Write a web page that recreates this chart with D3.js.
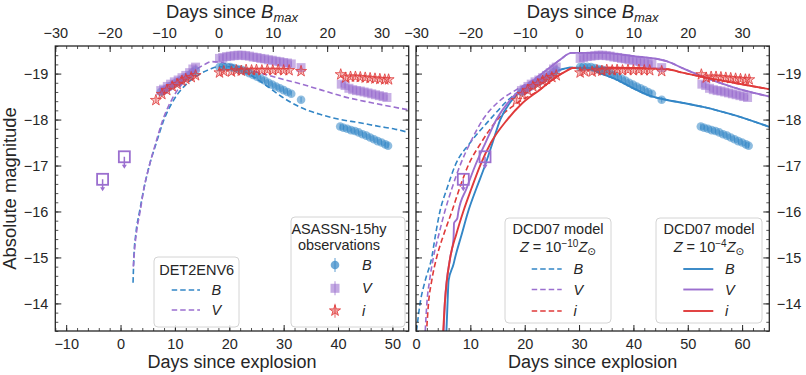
<!DOCTYPE html>
<html>
<head>
<meta charset="UTF-8">
<script src="https://cdnjs.cloudflare.com/ajax/libs/d3/7.8.5/d3.min.js"></script>
<style>
  body { margin: 0; background: #fff; }
  svg text { font-family: "Liberation Sans", Arial, Helvetica, sans-serif; fill: #262626; }
</style>
</head>
<body>
<svg id="chart" width="806" height="375"></svg>
<script>
// ASASSN-15hy photometry, [days since B max, absolute mag]
var obsB = [[-10.6,-18.6],[-10.1,-18.63],[-9.4,-18.68],[-8.8,-18.73],[-8.1,-18.78],[-7.4,-18.82],[-6.7,-18.87],[-6.0,-18.92],[-5.3,-18.97],[-4.7,-19.03],[-4.2,-19.07],
  [0.2,-19.14],[0.8,-19.15],[1.5,-19.15],[2.2,-19.14],[2.9,-19.12],[3.6,-19.1],[4.3,-19.08],[5.0,-19.05],[5.7,-19.01],[6.4,-18.97],[7.1,-18.93],[7.8,-18.89],[8.5,-18.85],[9.2,-18.8],[9.9,-18.76],[10.6,-18.72],[11.3,-18.68],[12.0,-18.64],[12.7,-18.6],[13.4,-18.56],
  [15.2,-18.43],
  [22.4,-17.85],[23.0,-17.82],[23.7,-17.8],[24.4,-17.77],[25.1,-17.75],[25.8,-17.72],[26.5,-17.68],[27.2,-17.65],[27.9,-17.61],[28.6,-17.57],[29.3,-17.53],[30.0,-17.5],[30.7,-17.46],[31.2,-17.43]];
var obsV = [[-10.6,-18.63],[-10.1,-18.66],[-9.4,-18.72],[-8.8,-18.77],[-8.1,-18.82],[-7.4,-18.86],[-6.7,-18.91],[-6.0,-18.96],[-5.3,-19.02],[-4.7,-19.1],[-4.2,-19.14],
  [0.2,-19.33],[0.8,-19.35],[1.5,-19.37],[2.2,-19.38],[2.9,-19.39],[3.6,-19.4],[4.3,-19.4],[5.0,-19.39],[5.7,-19.38],[6.4,-19.36],[7.1,-19.35],[7.8,-19.33],[8.5,-19.32],[9.2,-19.3],[9.9,-19.29],[10.6,-19.27],[11.3,-19.26],[12.0,-19.24],[12.7,-19.23],[13.4,-19.21],
  [15.2,-19.13],
  [22.6,-18.77],[23.3,-18.74],[24.0,-18.68],[24.7,-18.65],[25.4,-18.63],[26.1,-18.62],[26.8,-18.6],[27.5,-18.58],[28.2,-18.56],[28.9,-18.54],[29.6,-18.52],[30.3,-18.5],[31.0,-18.48]];
var obsI = [[-11.5,-18.42],[-10.4,-18.55],[-9.5,-18.64],[-8.5,-18.72],[-7.6,-18.77],[-6.7,-18.84],[-6.0,-18.88],[-5.0,-18.92],[-4.2,-18.96],
  [0.2,-19.02],[1.0,-19.05],[2.4,-19.04],[3.3,-19.07],[4.2,-19.06],[5.1,-19.08],[6.1,-19.07],[7.0,-19.08],[8.0,-19.07],[9.0,-19.08],[10.0,-19.07],[11.0,-19.08],[12.0,-19.07],[13.0,-19.07],
  [15.2,-19.05],
  [22.5,-18.98],[23.4,-18.91],[24.3,-18.93],[25.2,-18.93],[26.1,-18.92],[27.0,-18.91],[27.9,-18.9],[28.8,-18.89],[29.7,-18.88],[30.6,-18.87],[31.3,-18.87]];
var limV = [[-21.3,-16.70],[-17.3,-17.19]];

// models, [days since explosion, absolute mag]
var det2B = [[2.3,-14.45],[2.45,-15.0],[2.8,-15.5],[3.5,-16.0],[4.3,-16.5],[5.3,-17.0],[6.6,-17.5],[8.0,-18.0],[9.8,-18.43],[12.2,-18.78],[14.6,-18.99],[16.5,-19.1],[18.0,-19.15],[20.0,-19.15],[22.0,-19.08],[24.0,-18.96],[26.8,-18.74],[30.0,-18.47],[33.0,-18.27],[36.5,-18.12],[40.0,-18.01],[44.0,-17.93],[47.6,-17.85],[50.5,-17.79],[53.0,-17.72]];
var det2V = [[2.35,-14.8],[2.6,-15.2],[3.0,-15.6],[3.6,-16.0],[4.3,-16.5],[5.3,-17.0],[6.5,-17.5],[7.8,-18.0],[9.5,-18.45],[11.5,-18.8],[13.5,-19.05],[15.5,-19.2],[16.8,-19.26],[18.5,-19.24],[21.0,-19.17],[24.0,-19.07],[27.0,-18.97],[30.0,-18.87],[33.0,-18.78],[37.0,-18.64],[41.0,-18.5],[46.0,-18.37],[53.0,-18.21]];

var dcdLoB = [[0.1,-13.4],[0.75,-14.0],[1.7,-14.5],[2.9,-15.0],[3.6,-15.5],[4.4,-16.0],[5.7,-16.5],[7.2,-17.0],[10.0,-17.5],[13.6,-18.0],[17.0,-18.43],[20.0,-18.7],[22.8,-18.88],[26.5,-19.08],[28.3,-19.13],[31.3,-19.12],[34.0,-19.0],[36.9,-18.87],[40.0,-18.68],[43.0,-18.52],[46.0,-18.43],[49.2,-18.36],[53.0,-18.27],[58.4,-18.1],[65.0,-17.84]];
var dcdLoV = [[1.7,-13.4],[2.0,-14.0],[2.5,-14.5],[3.2,-15.0],[4.2,-15.5],[5.3,-16.0],[6.6,-16.5],[8.1,-17.0],[10.0,-17.5],[12.3,-18.0],[15.3,-18.4],[18.5,-18.65],[21.6,-18.87],[24.5,-19.12],[26.5,-19.3],[28.6,-19.45],[33.8,-19.45],[40.0,-19.38],[46.1,-19.27],[49.0,-19.12],[52.2,-18.96],[58.4,-18.7],[65.0,-18.5]];
var dcdLoI = [[2.0,-13.5],[2.3,-14.0],[2.9,-14.5],[3.8,-15.0],[5.1,-15.5],[6.6,-16.0],[8.0,-16.5],[9.6,-17.0],[12.0,-17.5],[15.0,-18.0],[18.5,-18.35],[22.8,-18.65],[25.5,-18.9],[27.7,-19.06],[28.8,-19.12],[35.0,-19.13],[41.0,-19.12],[46.0,-19.1],[49.0,-19.02],[52.2,-18.94],[58.4,-18.8],[65.0,-18.66]];
var dcdHiB = [[5.6,-13.4],[5.8,-14.0],[6.0,-14.5],[6.9,-14.85],[7.2,-15.0],[8.4,-15.5],[9.6,-16.0],[11.1,-16.5],[12.7,-17.0],[14.1,-17.5],[15.5,-18.0],[17.5,-18.4],[20.0,-18.68],[22.8,-18.88],[26.5,-19.08],[28.3,-19.13],[31.3,-19.12],[34.0,-19.0],[36.9,-18.87],[40.0,-18.68],[43.0,-18.52],[46.0,-18.43],[49.2,-18.36],[53.0,-18.27],[58.4,-18.1],[65.0,-17.84]];
var dcdHiV = [[5.1,-13.4],[5.3,-14.0],[6.3,-15.0],[6.9,-15.4],[7.0,-15.75],[7.6,-15.85],[7.8,-16.0],[9.3,-16.5],[10.9,-17.0],[12.8,-17.5],[14.8,-18.0],[17.5,-18.45],[21.6,-18.85],[24.5,-19.12],[26.5,-19.3],[28.6,-19.45],[33.8,-19.45],[40.0,-19.38],[46.1,-19.27],[49.0,-19.12],[52.2,-18.96],[58.4,-18.7],[65.0,-18.5]];
var dcdHiI = [[5.0,-13.4],[5.3,-14.0],[6.3,-15.0],[7.4,-15.5],[8.7,-16.0],[10.2,-16.5],[11.8,-17.0],[13.8,-17.5],[16.8,-18.0],[19.5,-18.35],[22.8,-18.65],[25.5,-18.9],[27.7,-19.06],[28.8,-19.12],[35.0,-19.13],[41.0,-19.12],[46.0,-19.1],[49.0,-19.02],[52.2,-18.94],[58.4,-18.8],[65.0,-18.66]];

var colB = "#3386c6", colV = "#9b6fcf", colI = "#e03a3a";

var svg = d3.select("#chart");
svg.append("rect").attr("width", 806).attr("height", 375).attr("fill", "#fff");

var y = d3.scaleLinear().domain([-19.6, -13.4]).range([46, 331]);
var starSym = d3.symbol().type(d3.symbolStar).size(38);

function drawPanel(p) {
  var xb = d3.scaleLinear().domain(p.xdom).range([p.left, p.right]);
  var xt = d3.scaleLinear().domain([-30, 35]).range([p.left, p.right]);
  var g = svg.append("g");

  g.append("clipPath").attr("id", p.id + "clip")
    .append("rect").attr("x", p.left).attr("y", 46).attr("width", p.right - p.left).attr("height", 285);
  var plot = g.append("g").attr("clip-path", "url(#" + p.id + "clip)");

  var line = d3.line().x(function(d){ return xb(d[0]); }).y(function(d){ return y(d[1]); }).curve(d3.curveMonotoneX);
  p.curves.forEach(function(c){
    plot.append("path").attr("d", line(c.data)).attr("fill", "none")
      .attr("stroke", c.color).attr("stroke-width", c.dash ? 1.6 : 1.9)
      .attr("stroke-dasharray", c.dash ? "5.5,3" : null);
  });

  // observations are in days since B max, use top scale
  function errbars(data, color) {
    plot.append("g").selectAll("line").data(data).join("line")
      .attr("x1", function(d){ return xt(d[0]); }).attr("x2", function(d){ return xt(d[0]); })
      .attr("y1", function(d){ return y(d[1] - 0.06); }).attr("y2", function(d){ return y(d[1] + 0.06); })
      .attr("stroke", color).attr("stroke-opacity", 0.6).attr("stroke-width", 1.2);
  }
  errbars(obsB, colB); errbars(obsV, colV); errbars(obsI, colI);

  plot.append("g").selectAll("circle").data(obsB).join("circle")
    .attr("cx", function(d){ return xt(d[0]); }).attr("cy", function(d){ return y(d[1]); })
    .attr("r", 4.3).attr("fill", colB).attr("fill-opacity", 0.55);
  plot.append("g").selectAll("rect").data(obsV).join("rect")
    .attr("x", function(d){ return xt(d[0]) - 4.5; }).attr("y", function(d){ return y(d[1]) - 4.5; })
    .attr("width", 9).attr("height", 9).attr("fill", colV).attr("fill-opacity", 0.55);
  plot.append("g").selectAll("path").data(obsI).join("path")
    .attr("transform", function(d){ return "translate(" + xt(d[0]) + "," + y(d[1]) + ")"; })
    .attr("d", starSym).attr("fill", colI).attr("fill-opacity", 0.3)
    .attr("stroke", colI).attr("stroke-opacity", 0.8).attr("stroke-width", 1);

  // V upper limits
  var lim = plot.append("g").selectAll("g").data(limV).join("g")
    .attr("transform", function(d){ return "translate(" + xt(d[0]) + "," + y(d[1]) + ")"; });
  lim.append("rect").attr("x", -5.5).attr("y", -5.5).attr("width", 11).attr("height", 11)
    .attr("fill", "none").attr("stroke", colV).attr("stroke-width", 1.8);
  lim.append("line").attr("x1", 0).attr("x2", 0).attr("y1", 0).attr("y2", 9)
    .attr("stroke", colV).attr("stroke-width", 1.5);
  lim.append("path").attr("d", "M-2.5,8 L2.5,8 L0,12 Z").attr("fill", colV);

  // axes
  function ax(axis, tr, major, minor, labels, pad) {
    var a = g.append("g").attr("transform", tr)
      .call(axis.tickValues(major).tickSizeInner(-6).tickSizeOuter(0).tickPadding(pad).tickFormat(labels ? d3.format("") : ""));
    a.select(".domain").remove();
    a.selectAll("line").attr("stroke", "#262626").attr("stroke-width", 1);
    a.selectAll("text").attr("font-size", 14.5).attr("fill", "#262626")
      .style("font-family", "'Liberation Sans', Arial, Helvetica, sans-serif");
    var m = g.append("g").attr("transform", tr)
      .call(axis.tickValues(minor).tickSizeInner(-3).tickSizeOuter(0).tickFormat(""));
    m.select(".domain").remove();
    m.selectAll("line").attr("stroke", "#262626").attr("stroke-width", 0.8);
  }
  ax(d3.axisBottom(xb), "translate(0,331)", xb.ticks(6), xb.ticks(30), true, 7.5);
  ax(d3.axisTop(xt), "translate(0,46)", d3.range(-30, 31, 10), xt.ticks(30), true, 8);
  ax(d3.axisLeft(y), "translate(" + p.left + ",0)", y.ticks(6), y.ticks(30), p.side === "left", 7);
  ax(d3.axisRight(y), "translate(" + p.right + ",0)", y.ticks(6), y.ticks(30), p.side === "right", 7.5);

  g.append("rect").attr("x", p.left).attr("y", 46).attr("width", p.right - p.left).attr("height", 285)
    .attr("fill", "none").attr("stroke", "#262626").attr("stroke-width", 1.3);

  var cx = (p.left + p.right) / 2;
  g.append("text").attr("x", cx).attr("y", 367.5).attr("text-anchor", "middle").attr("font-size", 18)
    .text("Days since explosion");
  var t = g.append("text").attr("x", cx).attr("y", 18).attr("text-anchor", "middle").attr("font-size", 18.4);
  t.append("tspan").text("Days since ");
  t.append("tspan").attr("font-style", "italic").text("B");
  t.append("tspan").attr("font-style", "italic").attr("font-size", 13).attr("dy", 4).text("max");

  return g;
}

drawPanel({
  id: "l", left: 55.3, right: 408.7, xdom: [-12, 53], side: "left",
  curves: [
    {data: det2B, color: colB, dash: true},
    {data: det2V, color: colV, dash: true}
  ]
});
drawPanel({
  id: "r", left: 416, right: 769.3, xdom: [0, 65], side: "right",
  curves: [
    {data: dcdLoB, color: colB, dash: true},
    {data: dcdLoV, color: colV, dash: true},
    {data: dcdLoI, color: colI, dash: true},
    {data: dcdHiB, color: colB, dash: false},
    {data: dcdHiV, color: colV, dash: false},
    {data: dcdHiI, color: colI, dash: false}
  ]
});

svg.append("text").attr("transform", "translate(16,188.5) rotate(-90)").attr("text-anchor", "middle")
  .attr("font-size", 18.4).text("Absolute magnitude");

// legends
function legendBox(x, yy, w, h) {
  svg.append("rect").attr("x", x).attr("y", yy).attr("width", w).attr("height", h).attr("rx", 4)
    .attr("fill", "#fff").attr("fill-opacity", 0.85).attr("stroke", "#d4d4d4").attr("stroke-width", 1);
}
function legText(x, yy, s, anchor, italic) {
  return svg.append("text").attr("x", x).attr("y", yy).attr("font-size", 14.5)
    .attr("text-anchor", anchor || "start").attr("font-style", italic ? "italic" : null).text(s);
}
function zTitle(cx, yy, exp) {
  var t = svg.append("text").attr("x", cx).attr("y", yy).attr("font-size", 14.5).attr("text-anchor", "middle");
  t.append("tspan").attr("font-style", "italic").text("Z");
  t.append("tspan").text(" = 10");
  t.append("tspan").attr("font-size", 10).attr("dy", -5).text(exp);
  t.append("tspan").attr("font-style", "italic").attr("dy", 5).text("Z");
  t.append("tspan").attr("font-size", 10.5).attr("dy", 3).style("font-family", "'DejaVu Sans'").text("\u2299");
}

// DET2ENV6
legendBox(154, 257, 85, 70);
legText(196.7, 275, "DET2ENV6", "middle");
[[colB, "B", 290], [colV, "V", 310]].forEach(function(e){
  svg.append("line").attr("x1", 171.7).attr("x2", 200).attr("y1", e[2]).attr("y2", e[2])
    .attr("stroke", e[0]).attr("stroke-width", 1.6).attr("stroke-dasharray", "5.5,3");
  legText(211.5, e[2] + 5, e[1], "start", true);
});

// observations
legendBox(291, 217, 114, 110);
legText(339, 234, "ASASSN-15hy", "middle");
legText(339, 250, "observations", "middle");
var ly = [265, 288.3, 310.7];
svg.append("g").selectAll("line").data(ly).join("line")
  .attr("x1", 335).attr("x2", 335).attr("y1", function(d){ return d - 7; }).attr("y2", function(d){ return d + 7; })
  .attr("stroke", function(d, i){ return [colB, colV, colI][i]; }).attr("stroke-opacity", 0.6).attr("stroke-width", 1.3);
svg.append("circle").attr("cx", 335).attr("cy", ly[0]).attr("r", 4.3).attr("fill", colB).attr("fill-opacity", 0.7);
svg.append("rect").attr("x", 330.5).attr("y", ly[1] - 4.5).attr("width", 9).attr("height", 9).attr("fill", colV).attr("fill-opacity", 0.6);
svg.append("path").attr("transform", "translate(335," + ly[2] + ")").attr("d", starSym)
  .attr("fill", colI).attr("fill-opacity", 0.45).attr("stroke", colI).attr("stroke-opacity", 0.85);
legText(362, ly[0] + 5, "B", "start", true);
legText(362, ly[1] + 5, "V", "start", true);
legText(362, ly[2] + 5, "i", "start", true);

// DCD07 legends
function dcdLegend(x, w, lineX, labX, exp, dash) {
  legendBox(x, 218, w, 105);
  legText(x + w / 2, 234, "DCD07 model", "middle");
  zTitle(x + w / 2, 251.5, exp);
  [[colB, "B", 269], [colV, "V", 289.5], [colI, "i", 311]].forEach(function(e){
    svg.append("line").attr("x1", lineX).attr("x2", lineX + 30).attr("y1", e[2]).attr("y2", e[2])
      .attr("stroke", e[0]).attr("stroke-width", dash ? 1.6 : 1.9).attr("stroke-dasharray", dash ? "5.5,3" : null);
    legText(labX, e[2] + 5, e[1], "start", true);
  });
}
dcdLegend(505, 106, 531.7, 573.5, "\u221210", true);
dcdLegend(656, 106, 683.3, 725, "\u22124", false);
</script>
</body>
</html>
